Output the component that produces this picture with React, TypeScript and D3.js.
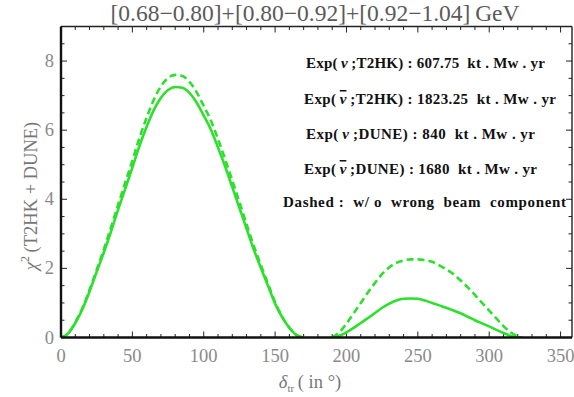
import React from "react";
import * as d3 from "d3";

// ---------- data ----------
const bump1X = [0,5,10,15,20,25,30,35,40,45,50,55,60,65,70,75,80,85,90,95,100,105,110,115,120,125,130,135,140,145,150,155,160,165,170];
const bump1Solid = [0,0.12,0.42,0.82,1.33,1.9,2.46,3.06,3.7,4.3,4.92,5.55,6.1,6.58,6.94,7.16,7.25,7.23,7.08,6.8,6.42,6.02,5.5,4.95,4.35,3.75,3.15,2.55,2.02,1.5,0.98,0.58,0.28,0.07,0];
const bump1Dashed = [0,0.12,0.44,0.85,1.38,1.96,2.55,3.18,3.84,4.48,5.12,5.78,6.36,6.88,7.27,7.51,7.6,7.57,7.4,7.1,6.7,6.28,5.74,5.16,4.54,3.92,3.28,2.66,2.1,1.56,1.02,0.6,0.29,0.07,0];

const bump2X = [190,195,200,205,210,215,220,225,230,235,240,245,250,255,260,265,270,275,280,285,290,295,300,305,310,315,320,323];
const bump2Solid = [0,0.05,0.15,0.28,0.42,0.56,0.71,0.86,0.98,1.07,1.12,1.13,1.12,1.07,1.0,0.93,0.86,0.78,0.7,0.6,0.5,0.41,0.32,0.22,0.13,0.05,0,0];
const bump2Dashed = [0,0.15,0.4,0.7,1.0,1.3,1.58,1.84,2.03,2.16,2.23,2.26,2.26,2.24,2.19,2.09,1.97,1.83,1.65,1.45,1.23,1.0,0.78,0.55,0.33,0.15,0.03,0];

const xMajorTicks = [0, 50, 100, 150, 200, 250, 300, 350];
const yMajorTicks = [0, 2, 4, 6, 8];

const titleText = "[0.68\u22120.80]+[0.80\u22120.92]+[0.92\u22121.04]\u2009GeV";
const legendLines = [
  { pre: "Exp(\u2009", nu: "\u03bd", bar: false, post: "\u2009;T2HK) : 607.75  kt . Mw . yr" },
  { pre: "Exp(\u2009", nu: "\u03bd", bar: true, post: "\u2009;T2HK) : 1823.25  kt . Mw . yr" },
  { pre: "Exp(\u2009", nu: "\u03bd", bar: false, post: "\u2009;DUNE) : 840  kt . Mw . yr" },
  { pre: "Exp(\u2009", nu: "\u03bd", bar: true, post: "\u2009;DUNE) : 1680  kt . Mw . yr" },
  { pre: "Dashed :  w/ o  wrong  beam  component", nu: "", bar: false, post: "" },
];
// layout for legend rows (x start, baseline y, width)
const legendLayout = [
  [306, 68, 239],
  [304, 104, 252],
  [306, 139, 229],
  [304, 174, 233],
  [283, 207, 283],
];

// ---------- layout ----------
const W = 574, H = 397;
const X0 = 61, X1 = 572, Y0 = 337.5, Y1 = 26.5;
const GREEN = "#2de02d";
const FONT = "'Liberation Serif', 'Times New Roman', serif";

export default function App() {
  const x = d3.scaleLinear().domain([0, 358]).range([X0, X1]);
  const y = d3.scaleLinear().domain([0, 9]).range([Y0, Y1]);
  const line = d3.line<[number, number]>()
    .x(d => x(d[0]))
    .y(d => y(d[1]))
    .curve(d3.curveMonotoneX);

  const mk = (xs: number[], ys: number[]) => line(xs.map((v, i) => [v, ys[i]] as [number, number])) || "";

  const xMinor = d3.range(0, 358, 10);
  const yMinor = d3.range(0, 9.01, 0.5);

  return (
    <svg width={W} height={H} style={{ position: "absolute", left: 0, top: 0, background: "#fff" }}>
      <defs>
        <clipPath id="plot">
          <rect x={X0} y={Y1} width={X1 - X0} height={Y0 - Y1} />
        </clipPath>
      </defs>
      <rect x={0} y={0} width={W} height={H} fill="#fff" />

      {/* title */}
      <text x={315} y={21} textAnchor="middle" fontFamily={FONT} fontSize={23.5} fill="#5a5a5a">{titleText}</text>

      {/* ticks */}
      <g stroke="#222" strokeWidth={1}>
        {xMinor.map(t => {
          const major = t % 50 === 0;
          const len = major ? 6 : 3.5;
          return (
            <g key={"xt" + t}>
              <line x1={x(t)} x2={x(t)} y1={Y0} y2={Y0 - len} />
              <line x1={x(t)} x2={x(t)} y1={Y1} y2={Y1 + len} />
            </g>
          );
        })}
        {yMinor.map(t => {
          const major = Math.abs(t % 2) < 1e-6;
          const len = major ? 6 : 3.5;
          return (
            <g key={"yt" + t}>
              <line x1={X0} x2={X0 + len} y1={y(t)} y2={y(t)} />
              <line x1={X1} x2={X1 - len} y1={y(t)} y2={y(t)} />
            </g>
          );
        })}
      </g>

      {/* curves */}
      <g clipPath="url(#plot)" fill="none" stroke={GREEN} strokeWidth={2.6}>
        <path d={mk(bump1X, bump1Solid)} />
        <path d={mk(bump2X, bump2Solid)} />
        <path d={mk(bump1X, bump1Dashed)} strokeDasharray="7 4" />
        <path d={mk(bump2X, bump2Dashed)} strokeDasharray="7 4" />
      </g>

      {/* frame */}
      <line x1={X0} x2={X1} y1={Y1} y2={Y1} stroke="#222" strokeWidth={1.4} />
      <line x1={X1} x2={X1} y1={Y1} y2={Y0} stroke="#222" strokeWidth={1.4} />
      <line x1={X0} x2={X1} y1={Y0} y2={Y0} stroke="#111" strokeWidth={2.4} />
      <line x1={X0} x2={X0} y1={Y1} y2={Y0} stroke="#111" strokeWidth={2.4} />

      {/* tick labels */}
      <g fontFamily={FONT} fontSize={18.5} fill="#8a8a8a">
        {xMajorTicks.map(t => (
          <text key={"xl" + t} x={x(t)} y={362} textAnchor="middle">{t}</text>
        ))}
        {yMajorTicks.map(t => (
          <text key={"yl" + t} x={54} y={y(t) + 6} textAnchor="end">{t}</text>
        ))}
      </g>

      {/* axis labels */}
      <text x={310} y={388} textAnchor="middle" fontFamily={FONT} fontSize={18.5} fill="#777">
        <tspan fontStyle="italic">δ</tspan>
        <tspan fontSize={11} dy={4}>tr</tspan>
        <tspan dy={-4}>{"\u2009( in °)"}</tspan>
      </text>
      <text transform="translate(37,196) rotate(-90)" textAnchor="middle" fontFamily={FONT} fontSize={18.5} fill="#777">
        <tspan fontStyle="italic">χ</tspan>
        <tspan fontSize={12} dy={-8}>2</tspan>
        <tspan dy={8}>{"\u2009(T2HK + DUNE)"}</tspan>
      </text>

      {/* legend text */}
      <g fontFamily={FONT} fontSize={15} fontWeight="bold" fill="#111">
        {legendLines.map((l, i) => {
          const [lx, ly, lw] = legendLayout[i];
          return (
            <text key={"lg" + i} x={lx} y={ly} textLength={lw} lengthAdjust="spacing" xmlSpace="preserve">
              {l.pre}
              {l.nu ? (
                <tspan fontStyle="italic" style={l.bar ? { textDecoration: "overline" } : undefined}>{l.nu}</tspan>
              ) : null}
              {l.post}
            </text>
          );
        })}
      </g>
    </svg>
  );
}
